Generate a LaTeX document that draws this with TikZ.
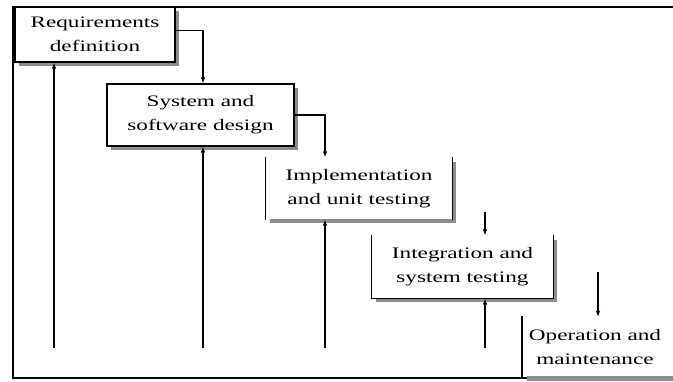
\documentclass[tikz,border=0pt]{standalone}
\usepackage{fontspec}
\setmainfont[FakeStretch=1.45]{Liberation Serif}
\usepackage{tikz}
\usetikzlibrary{arrows.meta}
\usetikzlibrary{shadows}
\usetikzlibrary{positioning}
\tikzstyle{phase}=[draw,fill=white,align=center,inner sep=0pt,line width=1.2pt,font=\fontsize{16}{24}\selectfont,drop shadow={shadow xshift=4pt,shadow yshift=-4pt,fill=black!45,opacity=1}]
\tikzstyle{flow}=[-{Latex[length=6pt,width=4.5pt]},line width=1.1pt]
\begin{document}
\begin{tikzpicture}[x=1pt,y=-1pt]
\tikzstyle{heavy}=[flow,line width=2.2pt]
\useasboundingbox (0,0) rectangle (673,381);
\draw[line width=2.5pt] (673,7) -- (13,7) -- (13,378) -- (673,378);
    \node [phase,minimum width=160pt,minimum height=55pt] (req) at (95,34.5) {Requirements\\definition};
    \node [phase,minimum width=187pt,minimum height=62pt] (design) at (200.5,115) {System and\\software design};
    \node [phase,draw=none,minimum width=186pt,minimum height=61pt] (impl) at (359,188.5) {Implementation\\and unit testing};
    \node [phase,draw=none,minimum width=181pt,minimum height=62pt] (integ) at (462.5,267) {Integration and\\system testing};
    \node [align=center,inner sep=0pt,font=\fontsize{16}{24}\selectfont,minimum height=60pt] (oper) at (595,347) {Operation and\\maintenance};
% open borders
\draw[line width=1.2pt] (impl.north west) -- (impl.south west);
\draw[line width=1.2pt] (impl.north east) -- (impl.south east);
\draw[line width=1.2pt] (integ.north west) -- (integ.south west) -- (integ.south east) -- (integ.north east);
\draw[line width=1.2pt] (522,316) coordinate (o1) -- (o1 |- oper.south);
\fill[black!45] (527,376) rectangle (673,381);
% down the cascade
\draw[flow] ([yshift=4pt]req.east) -| ([xshift=2.5pt]design.north);
\draw[heavy] (design.east) -| ([xshift=-34pt]impl.north);
\coordinate (d4) at (485,212);
\draw[flow] (d4) -- (d4 |- integ.north);
\coordinate (d5) at (598,272);
\draw[flow] (d5) -- (d5 |- oper.north);
% feedback
\coordinate (b1) at (54,348);
\coordinate (b2) at (203,348);
\coordinate (b3) at (325,348);
\coordinate (b4) at (485,348);
\draw[flow] (b1) -- (b1 |- req.south);
\draw[flow] (b2) -- (b2 |- design.south);
\draw[heavy] (b3) -- (b3 |- impl.south);
\draw[flow] (b4) -- (b4 |- integ.south);
\end{tikzpicture}
\end{document}
